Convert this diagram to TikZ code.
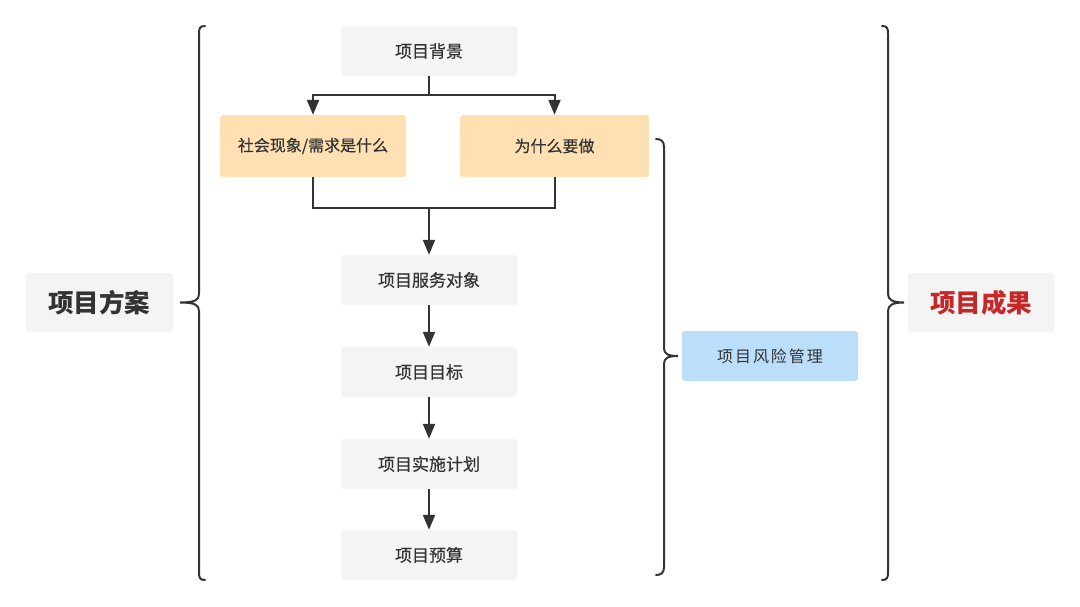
\documentclass[tikz,border=0pt]{standalone}
\usepackage{fontspec}
\setmainfont{Noto Sans CJK SC}
\newfontfamily\cjkmed[FakeBold=0.3]{Noto Sans CJK SC}
\newfontfamily\cjkwide[LetterSpace=12]{Noto Sans CJK SC}
\usetikzlibrary{arrows.meta}
\definecolor{boxgray}{HTML}{F4F4F4}
\definecolor{boxorange}{HTML}{FFE0B2}
\definecolor{boxblue}{HTML}{BBDEFB}
\definecolor{ink}{HTML}{333333}
\definecolor{redtxt}{HTML}{C62828}
\tikzset{
  x=1pt, y=-1pt,
  basebox/.style={rounded corners=3pt, inner sep=0pt, text=ink, align=center},
  graybox/.style={basebox, fill=boxgray, minimum width=176pt, minimum height=50pt, font=\cjkmed\fontsize{17}{19}\selectfont},
  orangebox/.style={basebox, fill=boxorange, minimum height=62pt, font=\cjkmed\fontsize{16}{18}\selectfont},
  bluebox/.style={basebox, fill=boxblue, minimum width=176pt, minimum height=50pt, font=\cjkwide\fontsize{16}{18}\selectfont},
  bigbox/.style={basebox, fill=boxgray, minimum width=147pt, minimum height=59pt, font=\bfseries\fontsize{25.5}{29}\selectfont},
  conn/.style={draw=ink, line width=2pt},
  arr/.style={conn, -{Triangle[length=15pt,width=12pt]}},
  bracestyle/.style={draw=ink, line width=2pt, line cap=round}
}
\begin{document}
\begin{tikzpicture}
\useasboundingbox (0,0) rectangle (1080,606);
\fill[white] (0,0) rectangle (1080,606);

\node[graybox] (bg) at (429,51) {项目背景};
\node[orangebox, minimum width=186pt] (soc) at (313,146) {社会现象/需求是什么};
\node[orangebox, minimum width=189pt] (why) at (554.5,146) {为什么要做};
\node[graybox] (svc) at (429,280) {项目服务对象};
\node[graybox] (goal) at (429,372) {项目目标};
\node[graybox] (plan) at (429,464) {项目实施计划};
\node[graybox] (bud) at (429,555) {项目预算};
\node[bigbox] (fa) at (99.5,302.5) {项目方案};
\node[bigbox, text=redtxt] (cg) at (981,302.5) {项目成果};
\node[bluebox] (risk) at (770,356) {项目风险管理};

\coordinate (j1) at (429,95);
\coordinate (j2) at (429,208);

% top split
\draw[conn] (bg.south) -- (j1);
\draw[arr] (j1) -| (soc.north);
\draw[arr] (j1) -| (why.north);
% merge
\draw[conn] (soc.south) |- (j2);
\draw[conn] (why.south) |- (j2);
\draw[arr] (j2) -- (svc.north);
\draw[arr] (svc) -- (goal);
\draw[arr] (goal) -- (plan);
\draw[arr] (plan) -- (bud);

% left brace {
\coordinate (lbt) at (205,26);
\coordinate (lbb) at (205,580);
\coordinate (lbtip) at (180,302.5);
\draw[bracestyle] (lbt) .. controls (200,26) and (199,28) .. (199,34)
  -- (199,294) .. controls (199,300) and (195,302.5) .. (lbtip)
  .. controls (195,302.5) and (199,305) .. (199,311)
  -- (199,572) .. controls (199,578) and (200,580) .. (lbb);

% middle brace }
\coordinate (mbt) at (656,139);
\coordinate (mbb) at (656,575);
\coordinate (mbtip) at (678,356);
\draw[bracestyle] (mbt) .. controls (661,139) and (664,141) .. (664,147)
  -- (664,348) .. controls (664,354) and (668,356) .. (mbtip)
  .. controls (668,356) and (664,358) .. (664,364)
  -- (664,567) .. controls (664,573) and (661,575) .. (mbb);

% right brace }
\coordinate (rbt) at (882,26);
\coordinate (rbb) at (882,580);
\coordinate (rbtip) at (904,302.5);
\draw[bracestyle] (rbt) .. controls (887,26) and (888,28) .. (888,34)
  -- (888,294) .. controls (888,300) and (893,302.5) .. (rbtip)
  .. controls (893,302.5) and (888,305) .. (888,311)
  -- (888,572) .. controls (888,578) and (887,580) .. (rbb);
\end{tikzpicture}
\end{document}
